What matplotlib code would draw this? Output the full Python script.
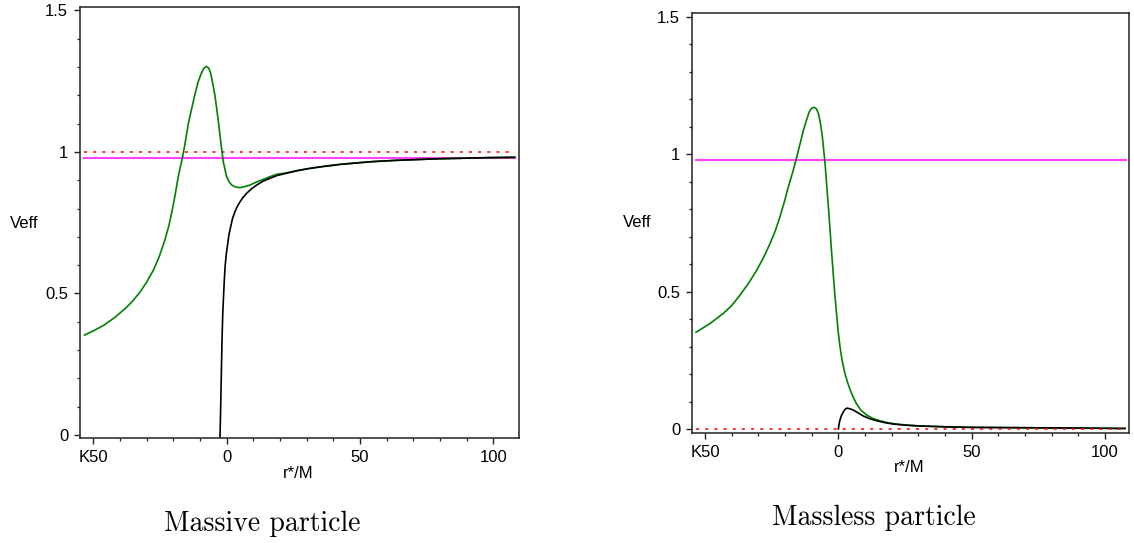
import matplotlib
matplotlib.use("Agg")
import matplotlib.pyplot as plt
from matplotlib.ticker import MultipleLocator, FixedLocator, FixedFormatter

# ---------------- data ----------------
# Massive particle (left)
massive_green_x = [-53.3, -50.0, -46.0, -42.0, -38.0, -35.0, -32.5, -30.0, -27.5, -25.3,
                   -23.3, -21.6, -20.3, -19.3, -18.4, -17.5, -16.6, -15.8, -14.4, -13.2,
                   -12.0, -10.8, -9.5, -8.5, -7.6, -6.7, -6.0, -5.3, -4.4, -3.7,
                   -3.0, -2.4, -1.75, -1.2, -0.6, 0.0, 0.9, 1.8, 2.75, 3.8,
                   5.0, 6.5, 8.75, 11.0, 13.75, 16.0, 18.75, 22.5, 26.5, 31.25,
                   36.5, 42.5, 48.5, 55.0, 63.0, 71.25, 80.0, 90.0, 99.0, 108.0]
massive_green_y = [0.353, 0.368, 0.388, 0.415, 0.447, 0.476, 0.505, 0.540, 0.582, 0.630,
                   0.685, 0.742, 0.800, 0.850, 0.900, 0.942, 0.980, 1.020, 1.099, 1.150,
                   1.199, 1.245, 1.278, 1.296, 1.302, 1.296, 1.278, 1.245, 1.199, 1.150,
                   1.099, 1.050, 1.000, 0.962, 0.936, 0.912, 0.895, 0.884, 0.878, 0.875,
                   0.874, 0.877, 0.883, 0.893, 0.903, 0.912, 0.921, 0.926, 0.934, 0.942,
                   0.949, 0.956, 0.961, 0.966, 0.970, 0.973, 0.976, 0.978, 0.980, 0.981]

massive_black_x = [-2.5, -2.25, -2.0, -1.75, -1.5, -1.25, -0.9, -0.6, -0.2, 0.25,
                   0.8, 1.5, 2.2, 3.1, 4.0, 5.0, 6.2, 7.5, 9.2, 11.25,
                   13.5, 16.25, 19.0, 22.5, 26.5, 31.25, 36.5, 42.5, 48.5, 55.0,
                   63.0, 71.25, 80.0, 90.0, 99.0, 108.0]
massive_black_y = [-0.006, 0.100, 0.220, 0.336, 0.420, 0.477, 0.545, 0.595, 0.635, 0.666,
                   0.705, 0.736, 0.765, 0.789, 0.808, 0.824, 0.840, 0.854, 0.869, 0.883,
                   0.896, 0.907, 0.917, 0.925, 0.934, 0.942, 0.949, 0.956, 0.961, 0.966,
                   0.970, 0.973, 0.976, 0.978, 0.980, 0.981]

# Massless particle (right)
massless_green_x = [-53.4, -48.1, -43.1, -40.0, -36.9, -33.7, -30.6, -28.0, -25.6, -23.7,
                    -21.9, -20.3, -18.75, -17.1, -15.6, -14.3, -13.1, -11.9, -10.9, -10.0,
                    -9.1, -8.2, -7.5, -6.7, -6.0, -5.0, -4.4, -3.75, -3.1, -2.5,
                    -1.9, -1.25, -0.6, 0.0, 0.6, 1.25, 1.9, 2.5, 3.5, 4.4,
                    5.6, 6.9, 8.5, 10.6, 13.0, 15.6, 18.5, 21.9, 26.0, 30.6,
                    40.0, 49.4, 65.0, 80.6, 95.0, 107.5]
massless_green_y = [0.352, 0.384, 0.421, 0.449, 0.487, 0.530, 0.578, 0.625, 0.675, 0.720,
                    0.772, 0.825, 0.881, 0.935, 0.990, 1.040, 1.087, 1.125, 1.154, 1.167,
                    1.170, 1.164, 1.148, 1.110, 1.063, 0.966, 0.890, 0.808, 0.720, 0.639,
                    0.560, 0.481, 0.410, 0.348, 0.300, 0.258, 0.226, 0.200, 0.168, 0.143,
                    0.115, 0.090, 0.068, 0.051, 0.038, 0.030, 0.023, 0.018, 0.014, 0.011,
                    0.008, 0.006, 0.005, 0.004, 0.003, 0.002]

massless_black_x = [0.0, 0.3, 0.6, 1.2, 1.9, 2.5, 3.1, 4.2, 5.6, 7.5,
                    9.4, 11.9, 14.4, 17.5, 20.6, 25.0, 30.6, 40.0, 49.4, 65.0,
                    80.6, 95.0, 107.5]
massless_black_y = [0.0, 0.020, 0.033, 0.050, 0.063, 0.071, 0.076, 0.074, 0.069, 0.058,
                    0.047, 0.037, 0.030, 0.023, 0.018, 0.014, 0.011, 0.008, 0.006, 0.005,
                    0.004, 0.003, 0.002]

line_x = [-53.4, 108.0]
massive_energy = [0.98, 0.98]     # magenta
massive_rest = [1.0, 1.0]         # red dotted
massless_energy = [0.98, 0.98]
massless_rest = [0.0, 0.0]

xticks = [-50, 0, 50, 100]
xtick_labels = ["K50", "0", "50", "100"]
yticks = [0, 0.5, 1, 1.5]
ytick_labels = ["0", "0.5", "1", "1.5"]

captions = ["Massive particle", "Massless particle"]

# ---------------- figure ----------------
W, H = 1134, 543
fig = plt.figure(figsize=(W / 100, H / 100), dpi=100)

def fax(x0, x1, y0, y1):
    return fig.add_axes([x0 / W, 1 - y1 / H, (x1 - x0) / W, (y1 - y0) / H])

axL = fax(80, 519, 7, 438)
axR = fax(692, 1129, 13, 433)

GREEN = "#008000"
MAGENTA = "#ff40ff"
RED = "#ff0000"

def style(ax, xlim, ylim):
    ax.set_xlim(*xlim)
    ax.set_ylim(*ylim)
    ax.xaxis.set_major_locator(FixedLocator(xticks))
    ax.xaxis.set_major_formatter(FixedFormatter(xtick_labels))
    ax.yaxis.set_major_locator(FixedLocator(yticks))
    ax.yaxis.set_major_formatter(FixedFormatter(ytick_labels))
    ax.xaxis.set_minor_locator(MultipleLocator(10))
    ax.yaxis.set_minor_locator(MultipleLocator(0.1))
    ax.tick_params(which="major", direction="out", length=4.5, width=1.0,
                   labelsize=12, pad=4, color="#222222", labelcolor="black")
    ax.tick_params(which="minor", direction="out", length=2.5, width=0.9, color="#222222")
    for lab in ax.get_xticklabels() + ax.get_yticklabels():
        lab.set_fontfamily("Liberation Sans")
    for sp in ax.spines.values():
        sp.set_linewidth(1.1)
        sp.set_color("#222222")

style(axL, (-55.0, 109.6), (-0.0106, 1.512))
style(axR, (-54.9, 109.0), (-0.0145, 1.513))

# left panel
axL.plot(line_x, massive_rest, color=RED, lw=1.1, dashes=(2, 4))
axL.plot(line_x, massive_energy, color=MAGENTA, lw=1.5)
axL.plot(massive_green_x, massive_green_y, color=GREEN, lw=1.2)
axL.plot(massive_black_x, massive_black_y, color="black", lw=1.2)

# right panel
axR.plot(line_x, massless_energy, color=MAGENTA, lw=1.5)
axR.plot(massless_green_x, massless_green_y, color=GREEN, lw=1.2)
axR.plot(massless_black_x, massless_black_y, color="black", lw=1.2)
axR.plot(line_x, massless_rest, color=RED, lw=1.1, dashes=(2, 4))

def ftext(x, y, s, **kw):
    fig.text(x / W, 1 - y / H, s, ha="center", va="center", **kw)

ftext(24.5, 223, "Veff", fontsize=12, family="Liberation Sans")
ftext(637, 222.5, "Veff", fontsize=12, family="Liberation Sans")
ftext(298, 474, "r*/M", fontsize=12, family="Liberation Sans")
ftext(909, 468, "r*/M", fontsize=12, family="Liberation Sans")

ftext(262, 524, captions[0], fontsize=20, family="cmr10")
ftext(874, 518, captions[1], fontsize=20, family="cmr10")

fig.savefig("out.png", dpi=100)
